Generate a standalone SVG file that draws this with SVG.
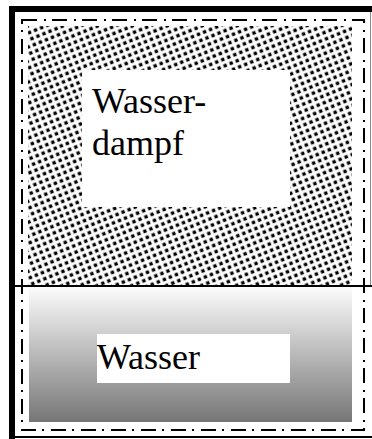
<svg xmlns="http://www.w3.org/2000/svg" width="372" height="439" viewBox="0 0 372 439">
  <style>
    .boundary { fill: none; stroke: #000; stroke-width: 2; stroke-dasharray: 15 7 2 6; }
  </style>
  <defs>
    <!-- stippled fill for the vapour phase -->
    <pattern id="stipple" width="6.5" height="6.5" patternUnits="userSpaceOnUse" patternTransform="rotate(-22)">
      <rect width="6.5" height="6.5" fill="#fff"/>
      <rect x="0.5" y="0.5" width="3.4" height="3.4" fill="#000"/>
    </pattern>
    <linearGradient id="liquid" x1="0" y1="0" x2="0" y2="1">
      <stop offset="0" stop-color="#fbfbfb"/>
      <stop offset="1" stop-color="#767676"/>
    </linearGradient>
  </defs>

  <rect width="372" height="439" fill="#fff"/>

  <!-- vessel walls -->
  <g id="vessel">
    <rect x="9" y="6" width="363" height="6" fill="#000"/>
    <rect x="9" y="6" width="6" height="433" fill="#000"/>
    <rect x="9" y="436" width="363" height="2" fill="#000"/>
    <line x1="370.5" y1="12" x2="370.5" y2="286" stroke="#888" stroke-width="1"/>
  </g>

  <!-- vapour phase -->
  <g id="dampf" font-family="'Liberation Serif', 'DejaVu Serif', serif" font-size="36">
    <rect x="28" y="26" width="324" height="259" fill="url(#stipple)"/>
    <rect x="82" y="70" width="208" height="137" fill="#fff"/>
    <text x="92" y="113">Wasser-</text>
    <text x="92" y="155">dampf</text>
  </g>

  <!-- phase boundary -->
  <g id="connectors">
    <line x1="15" y1="286" x2="372" y2="286" stroke="#000" stroke-width="2"/>
  </g>

  <!-- liquid phase -->
  <g id="wasser" font-family="'Liberation Serif', 'DejaVu Serif', serif" font-size="36">
    <rect x="29" y="288" width="323" height="134" fill="url(#liquid)"/>
    <rect x="97" y="334" width="193" height="49" fill="#fff"/>
    <text x="97" y="369">Wasser</text>
  </g>

  <!-- system boundary -->
  <g id="systemgrenze">
    <rect class="boundary" x="22" y="20" width="342" height="410"/>
  </g>
</svg>
